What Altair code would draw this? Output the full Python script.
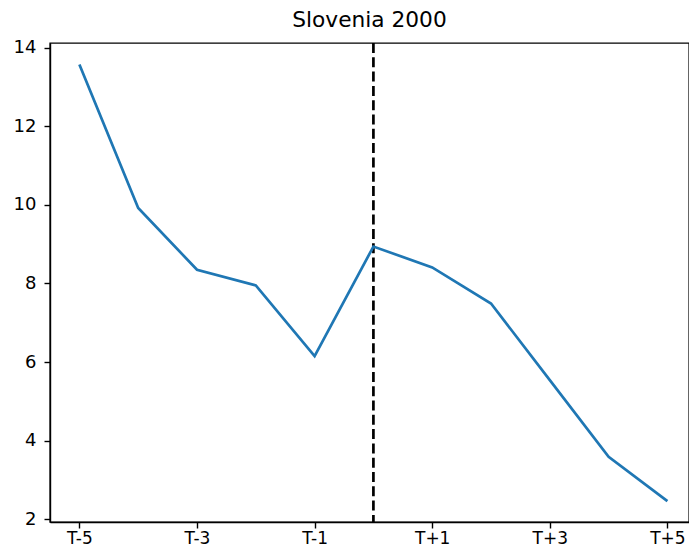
import altair as alt
import pandas as pd

offsets = [-5, -4, -3, -2, -1, 0, 1, 2, 3, 4, 5]
values = [13.57, 9.92, 8.35, 7.95, 6.15, 8.94, 8.41, 7.49, 5.54, 3.59, 2.46]
tick_values = [-5, -3, -1, 1, 3, 5]
event_offset = [0]
title_text = "Slovenia 2000"

df = pd.DataFrame({"t": offsets, "v": values})
ev = pd.DataFrame({"t": event_offset})

font = "DejaVu Sans"
xscale = alt.Scale(domain=[-5.5, 5.367], nice=False, zero=False)
yscale = alt.Scale(domain=[1.93, 14.12], nice=False, zero=False)

xaxis = alt.Axis(values=tick_values, title=None, grid=False,
                 labelExpr="datum.value > 0 ? 'T+' + datum.value : 'T' + datum.value",
                 labelFont=font, labelFontSize=17, labelColor="black",
                 tickColor="black", tickSize=6, tickWidth=1.4, labelPadding=2,
                 domainColor="black", domainWidth=1.4, labelFlush=False)
yaxis = alt.Axis(values=[2, 4, 6, 8, 10, 12, 14], title=None, grid=False,
                 labelFont=font, labelFontSize=18, labelColor="black",
                 tickColor="black", tickSize=6, tickWidth=1.4, labelPadding=8,
                 domainColor="black", domainWidth=1.4, labelFlush=False)

line = alt.Chart(df).mark_line(color="#1f77b4", strokeWidth=2.7).encode(
    x=alt.X("t:Q", scale=xscale, axis=xaxis),
    y=alt.Y("v:Q", scale=yscale, axis=yaxis),
)

rule = alt.Chart(ev).mark_rule(color="black", strokeWidth=2.7, strokeDash=[10, 4.3]).encode(
    x=alt.X("t:Q", scale=xscale),
)

chart = (rule + line).properties(
    width=639, height=479,
    background="white",
    title=alt.TitleParams(title_text, font=font, fontSize=21.7, fontWeight="normal",
                          color="black", offset=7, anchor="middle"),
    autosize=alt.AutoSizeParams(type="none"),
    padding={"left": 42, "top": 35, "right": 0, "bottom": 26},
).configure_view(stroke="black", strokeWidth=1.4)

chart.save("out.html", embed_options={"renderer": "svg", "actions": False})
